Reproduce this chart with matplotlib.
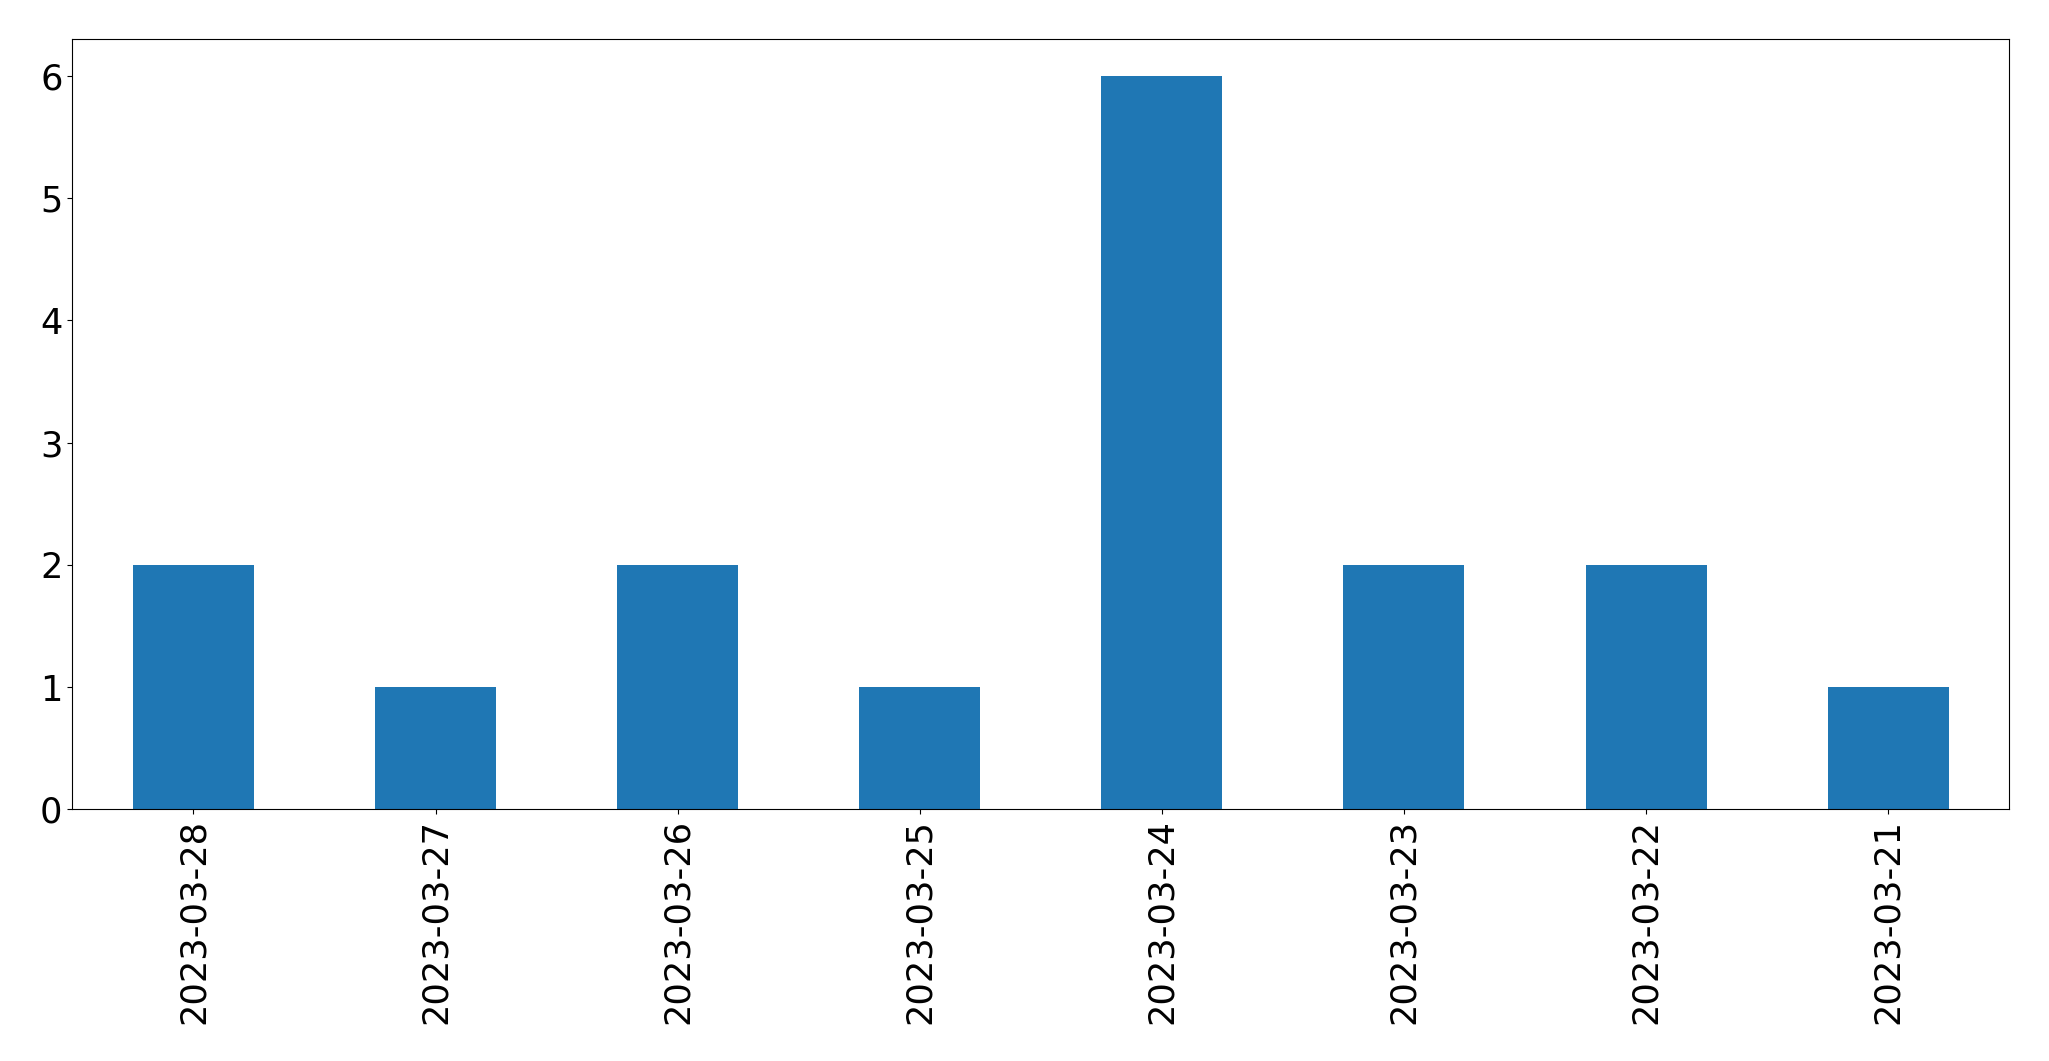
import matplotlib
matplotlib.use('Agg')
import matplotlib.pyplot as plt
import pandas as pd

# 日付ごとの件数
dates = ['2023-03-28', '2023-03-27', '2023-03-26', '2023-03-25',
         '2023-03-24', '2023-03-23', '2023-03-22', '2023-03-21']
counts = [2, 1, 2, 1, 6, 2, 2, 1]

s = pd.Series(counts, index=dates)

fig = plt.figure(figsize=(20.49, 10.61), dpi=100)
ax = fig.add_axes([0.0353, 0.2372, 0.9453, 0.7257])
s.plot(kind='bar', ax=ax, color='#1f77b4')

ax.tick_params(axis='both', labelsize=25.3)

fig.savefig('out.png', dpi=100)
